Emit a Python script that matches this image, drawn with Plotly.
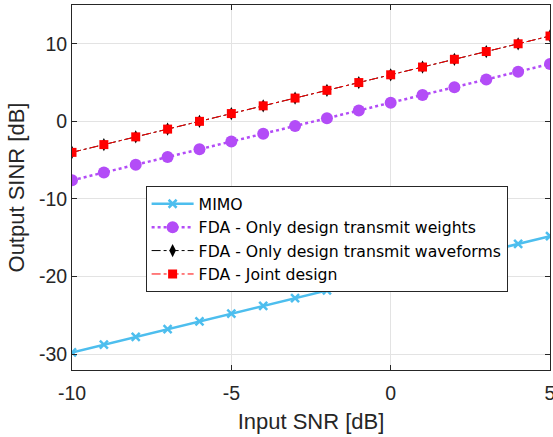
import plotly.graph_objects as go

snr = list(range(-10, 6))
mimo = [-29.8, -28.8, -27.8, -26.8, -25.8, -24.8, -23.8, -22.8, -21.8, -20.8, -19.8, -18.8, -17.8, -16.8, -15.8, -14.8]
fda_weights = [-7.6, -6.6, -5.6, -4.6, -3.6, -2.6, -1.6, -0.6, 0.4, 1.4, 2.4, 3.4, 4.4, 5.4, 6.4, 7.4]
fda_waveforms = [-4, -3, -2, -1, 0, 1, 2, 3, 4, 5, 6, 7, 8, 9, 10, 11]
fda_joint = [-4, -3, -2, -1, 0, 1, 2, 3, 4, 5, 6, 7, 8, 9, 10, 11]

x_ticks = [-10, -5, 0, 5]
x_ticktext = ["-10", "-5", "0", "5"]
y_ticks = [-30, -20, -10, 0, 10]
y_ticktext = ["-30", "-20", "-10", "0", "10"]

FONT = "Liberation Sans, Arial, Helvetica"

fig = go.Figure()
fig.add_trace(go.Scatter(x=snr, y=mimo, name="MIMO", mode="lines+markers",
                         line=dict(color="#4DBEEE", width=2.5),
                         marker=dict(symbol="x-thin", size=8, line=dict(color="#4DBEEE", width=2.5))))
fig.add_trace(go.Scatter(x=snr, y=fda_weights, name="FDA - Only design transmit weights", mode="lines+markers",
                         line=dict(color="#B34CF7", width=2.5, dash="dot"),
                         marker=dict(symbol="circle", size=12, color="#B34CF7")))
fig.add_trace(go.Scatter(x=snr, y=fda_waveforms, name="FDA - Only design transmit waveforms", mode="lines+markers",
                         line=dict(color="black", width=1, dash="dashdot"),
                         marker=dict(symbol="diamond-tall", size=9.5, color="black")))
fig.add_trace(go.Scatter(x=snr, y=fda_joint, name="FDA - Joint design", mode="lines+markers",
                         line=dict(color="#FF0000", width=1, dash="dashdot"),
                         marker=dict(symbol="square", size=9, color="#FF0000")))

axis_common = dict(showline=True, linecolor="#262626", linewidth=1, mirror="ticks",
                   ticks="inside", ticklen=5, tickcolor="#262626",
                   showgrid=True, gridcolor="#E3E3E3", gridwidth=1, zeroline=False,
                   ticklabeloverflow="allow", automargin=False,
                   tickfont=dict(family=FONT, size=19.5, color="#262626"),
                   title_font=dict(family=FONT, size=22, color="#262626"))

fig.update_xaxes(range=[-10, 5], tickvals=x_ticks, ticktext=x_ticktext, ticklabelstandoff=6,
                 title_text="Input SNR [dB]", title_standoff=10, **axis_common)
fig.update_yaxes(range=[-32.06, 15], tickvals=y_ticks, ticktext=y_ticktext,
                 title_text="Output SINR [dB]", title_standoff=8, **axis_common)

fig.update_layout(
    width=553, height=437,
    margin=dict(l=72, r=3, t=5, b=67),
    plot_bgcolor="white", paper_bgcolor="white",
    font=dict(family=FONT, color="#262626"),
    legend=dict(x=0.154, y=0.504, xanchor="left", yanchor="top",
                bgcolor="white", bordercolor="#262626", borderwidth=1,
                font=dict(family="DejaVu Sans", size=15.7, color="black"),
                tracegroupgap=0, itemwidth=42),
    showlegend=True,
)

fig.write_html("out.html")
